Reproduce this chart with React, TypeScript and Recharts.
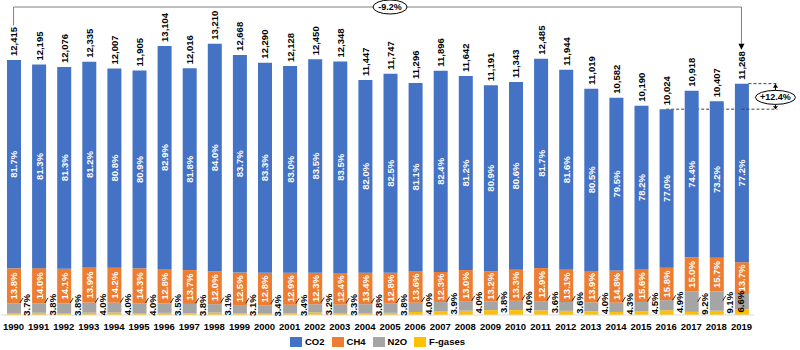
import React from 'react';
import { BarChart, Bar, XAxis, YAxis, LabelList, Legend, ReferenceLine, ReferenceDot } from 'recharts';

const years = [
  '1990', '1991', '1992', '1993', '1994', '1995', '1996', '1997', '1998', '1999',
  '2000', '2001', '2002', '2003', '2004', '2005', '2006', '2007', '2008', '2009',
  '2010', '2011', '2012', '2013', '2014', '2015', '2016', '2017', '2018', '2019',
];

const totals = [
  12415, 12195, 12076, 12335, 12007, 11905, 13104, 12016, 13210, 12668,
  12290, 12128, 12450, 12348, 11447, 11747, 11296, 11896, 11642, 11191,
  11343, 12485, 11944, 11019, 10582, 10190, 10024, 10918, 10407, 11268,
];

// shares of the yearly total, in %
const co2Share = [
  81.7, 81.3, 81.3, 81.2, 80.8, 80.9, 82.9, 81.8, 84.0, 83.7,
  83.3, 83.0, 83.5, 83.5, 82.0, 82.5, 81.1, 82.4, 81.2, 80.9,
  80.6, 81.7, 81.6, 80.5, 79.5, 78.2, 77.0, 74.4, 73.2, 77.2,
];
const ch4Share = [
  13.8, 14.0, 14.1, 13.9, 14.2, 14.3, 12.8, 13.7, 12.0, 12.5,
  12.8, 12.9, 12.3, 12.4, 13.4, 12.8, 13.6, 12.3, 13.0, 13.2,
  13.3, 12.9, 13.1, 13.9, 14.8, 15.6, 15.8, 15.0, 15.7, 13.7,
];
const n2oShare = [
  3.7, 3.8, 3.8, 4.0, 4.0, 4.0, 3.5, 3.8, 3.1, 3.1,
  3.4, 3.4, 3.2, 3.3, 3.8, 3.8, 4.0, 3.9, 4.0, 3.8,
  4.0, 3.6, 3.6, 4.0, 4.3, 4.5, 4.9, 9.2, 9.1, 6.6,
];
const fgasShare = [
  0.8, 0.9, 0.8, 0.9, 1.0, 0.8, 0.8, 0.7, 0.9, 0.7,
  0.5, 0.7, 1.0, 0.8, 0.8, 0.9, 1.3, 1.4, 1.8, 2.1,
  2.1, 1.8, 1.7, 1.6, 1.4, 1.7, 2.3, 1.4, 2.0, 2.5,
];

const series = [
  { key: 'co2', name: 'CO2', color: '#4472C4' },
  { key: 'ch4', name: 'CH4', color: '#ED7D31' },
  { key: 'n2o', name: 'N2O', color: '#A5A5A5' },
  { key: 'fgas', name: 'F-gases', color: '#FFC000' },
];

const data = years.map((year, i) => ({
  year,
  total: totals[i],
  co2Pct: co2Share[i],
  ch4Pct: ch4Share[i],
  n2oPct: n2oShare[i],
  co2: (totals[i] * co2Share[i]) / 100,
  ch4: (totals[i] * ch4Share[i]) / 100,
  n2o: (totals[i] * n2oShare[i]) / 100,
  fgas: (totals[i] * fgasShare[i]) / 100,
}));

const FONT = '"Liberation Sans", Arial, sans-serif';
const Y_MAX = 15000;
const FIRST = years[0];
const LAST = years[years.length - 1];
const LOW_YEAR = '2016';
const lowTotal = totals[years.indexOf(LOW_YEAR)];
const lastTotal = totals[totals.length - 1];

const VText = ({ x, y, anchor = 'middle', fill = '#fff', children }: any) => (
  <text
    x={x}
    y={y}
    transform={`rotate(-90 ${x} ${y})`}
    textAnchor={anchor}
    dominantBaseline="central"
    fontSize={9.5}
    fontWeight="bold"
    fill={fill}
    fontFamily={FONT}
  >
    {children}
  </text>
);

const TotalLabel = (p: any) => (
  <VText x={p.x + p.width / 2} y={p.y - 4} anchor="start" fill="#000">
    {Number(p.value).toLocaleString('en-US')}
  </VText>
);

const PctLabel = (p: any) => (
  <VText x={p.x + p.width / 2} y={p.y + p.height / 2}>
    {Number(p.value).toFixed(1)}%
  </VText>
);

const N2oLabel = (p: any) => {
  const { x, y, width, height, value, index } = p;
  const txt = `${Number(value).toFixed(1)}%`;
  if (index === years.length - 1) {
    return <VText x={x + width / 2 - 1} y={y + height / 2} fill="#000">{txt}</VText>;
  }
  const lx = x + width + 6;
  const ly = y + height - 8;
  const top = ly - 10;
  return (
    <g>
      <line x1={x + width - 1} y1={Math.min(y + height / 2, top + 8)} x2={lx - 4} y2={top + 3} stroke="#000" strokeWidth={0.8} />
      <VText x={lx} y={ly} fill="#000">{txt}</VText>
    </g>
  );
};

const Badge = ({ cx, cy, rx, text }: any) => (
  <g>
    <ellipse cx={cx} cy={cy} rx={rx} ry={7} fill="#fff" stroke="#000" strokeWidth={1} />
    <text x={cx} y={cy} textAnchor="middle" dominantBaseline="central" fontSize={9} fontWeight="bold" fontFamily={FONT} fill="#000">
      {text}
    </text>
  </g>
);

const ArrowDown = (p: any) => (
  <polygon points={`${p.cx - 3},${p.cy - 6} ${p.cx + 3},${p.cy - 6} ${p.cx},${p.cy}`} fill="#000" />
);

const LowMark = (p: any) => (
  <g>
    <line x1={p.cx} y1={p.cy} x2={p.cx + 36} y2={p.cy} stroke="#404040" strokeDasharray="3 2" />
    <line x1={p.cx + 34} y1={p.cy - 6} x2={p.cx + 34} y2={p.cy - 2} stroke="#000" />
    <polygon points={`${p.cx + 31.5},${p.cy - 3} ${p.cx + 36.5},${p.cy - 3} ${p.cx + 34},${p.cy}`} fill="#000" />
  </g>
);

const HighMark = (p: any) => (
  <g>
    <line x1={p.cx + 7} y1={p.cy} x2={p.cx + 36} y2={p.cy} stroke="#404040" strokeDasharray="3 2" />
    <line x1={p.cx + 34} y1={p.cy + 2} x2={p.cx + 34} y2={p.cy + 7} stroke="#000" />
    <polygon points={`${p.cx + 31.5},${p.cy + 4} ${p.cx + 36.5},${p.cy + 4} ${p.cx + 34},${p.cy}`} fill="#000" />
  </g>
);

const LegendContent = () => (
  <div
    style={{
      display: 'flex',
      justifyContent: 'center',
      alignItems: 'center',
      gap: 7,
      height: 17,
      fontFamily: FONT,
      fontSize: 9.5,
      fontWeight: 'bold',
      color: '#000',
    }}
  >
    {series.map((s) => (
      <span key={s.key} style={{ display: 'flex', alignItems: 'center' }}>
        <span style={{ display: 'inline-block', width: 12, height: 10, background: s.color, marginRight: 3 }} />
        {s.name}
      </span>
    ))}
  </div>
);

export default function App() {
  return (
    <div style={{ position: 'absolute', left: 0, top: 0, width: 800, height: 350, background: '#fff' }}>
      <BarChart width={800} height={350} data={data} margin={{ top: 7, right: 46, left: 1, bottom: 0 }}>
        <XAxis
          dataKey="year"
          interval={0}
          tickLine={false}
          axisLine={{ stroke: '#d9d9d9' }}
          height={18}
          tick={{ fontSize: 9.5, fontWeight: 'bold', fill: '#000', fontFamily: FONT }}
        />
        <YAxis hide domain={[0, Y_MAX]} />
        <Legend verticalAlign="bottom" content={<LegendContent />} />
        <ReferenceLine
          segment={[{ x: LOW_YEAR, y: lowTotal }, { x: LAST, y: lowTotal }]}
          stroke="#404040"
          strokeDasharray="3 2"
          ifOverflow="visible"
          zIndex={100}
        />
        <Bar dataKey="fgas" stackId="a" fill="#FFC000" barSize={14} isAnimationActive={false} />
        <Bar dataKey="n2o" stackId="a" fill="#A5A5A5" barSize={14} isAnimationActive={false}>
          <LabelList dataKey="n2oPct" content={N2oLabel} />
        </Bar>
        <Bar dataKey="ch4" stackId="a" fill="#ED7D31" barSize={14} isAnimationActive={false}>
          <LabelList dataKey="ch4Pct" content={PctLabel} />
        </Bar>
        <Bar dataKey="co2" stackId="a" fill="#4472C4" barSize={14} isAnimationActive={false}>
          <LabelList dataKey="co2Pct" content={PctLabel} />
          <LabelList dataKey="total" content={TotalLabel} />
        </Bar>
        <ReferenceLine segment={[{ x: FIRST, y: Y_MAX }, { x: FIRST, y: 14100 }]} stroke="#808080" ifOverflow="visible" />
        <ReferenceLine segment={[{ x: FIRST, y: Y_MAX }, { x: LAST, y: Y_MAX }]} stroke="#808080" ifOverflow="visible" />
        <ReferenceLine segment={[{ x: LAST, y: Y_MAX }, { x: LAST, y: 13100 }]} stroke="#808080" ifOverflow="visible" />
        <ReferenceDot x={LAST} y={12920} ifOverflow="visible" shape={ArrowDown} />
        <ReferenceDot x="2005" y={Y_MAX} ifOverflow="visible" shape={(p: any) => <Badge cx={p.cx} cy={p.cy} rx={17} text="-9.2%" />} />
        <ReferenceDot x={LAST} y={lowTotal} ifOverflow="visible" shape={LowMark} />
        <ReferenceDot x={LAST} y={lastTotal} ifOverflow="visible" shape={HighMark} />
        <ReferenceDot
          x={LAST}
          y={(lowTotal + lastTotal) / 2}
          ifOverflow="visible"
          shape={(p: any) => <Badge cx={p.cx + 34} cy={p.cy + 1} rx={20} text="+12.4%" />}
        />
      </BarChart>
    </div>
  );
}
